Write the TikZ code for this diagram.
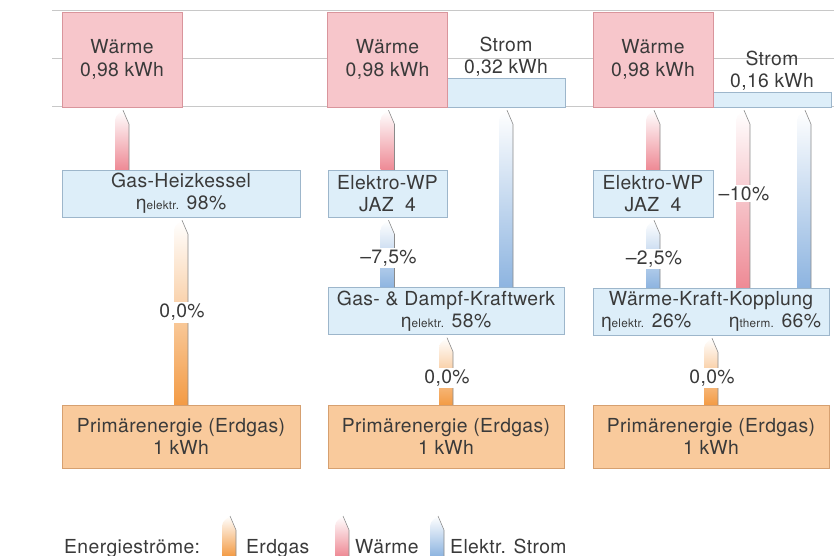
\documentclass[tikz,border=0pt]{standalone}
\usepackage{fontspec}
\setmainfont{TeX Gyre Heros}[LetterSpace=2]
\usetikzlibrary{calc,shadows}

\definecolor{txt}{HTML}{3A3A3A}
\definecolor{waerme}{HTML}{F7C6CB}
\definecolor{waermeedge}{HTML}{D9959C}
\definecolor{strom}{HTML}{DDEEF9}
\definecolor{stromedge}{HTML}{9DB6CB}
\definecolor{erdgas}{HTML}{F9CA9C}
\definecolor{erdgasedge}{HTML}{D6A070}
\definecolor{waermeflow}{HTML}{EE8A95}
\definecolor{stromflow}{HTML}{8DB4E0}
\definecolor{erdgasflow}{HTML}{F39B45}
\definecolor{gridline}{HTML}{C8C8C8}
\definecolor{flowline}{HTML}{8A8A8A}

\tikzset{
  box/.style={line width=0.4pt, inner sep=0pt, align=center, text=txt,
    drop shadow={shadow xshift=0.8pt, shadow yshift=-0.8pt, fill=black, opacity=0.3}},
  heatbox/.style={box, fill=waerme, draw=waermeedge, minimum width=3.6cm, minimum height=2.85cm},
  elbox/.style={box, fill=strom, draw=stromedge},
  convbox/.style={elbox, minimum height=1.41cm},
  gasbox/.style={box, fill=erdgas, draw=erdgasedge, minimum height=1.89cm},
  plain/.style={align=center, text=txt, inner sep=0pt},
  pct/.style={fill=white, inner sep=1.5pt, text=txt},
  legendtext/.style={anchor=base west, text=txt, inner sep=0pt},
  flowedge/.style={draw=flowline, line width=0.5pt}
}

% eta with small index
\newcommand{\eff}[1]{η{\fontsize{10}{12}\selectfont #1}}

% shaded flow arrow: colour, foot, tip
\newcommand{\flowshape}[3]{%
  \shade[bottom color=#1, top color=white] ($(#2)+(-8,0)$) -- ($(#3)+(-8,15)$)
    .. controls ($(#3)+(-8,6)$) .. (#3) -- ($(#3)+(6,14)$) -- ($(#2)+(6,0)$) -- cycle;
  \draw[flowedge] ($(#2)+(6,0)$) -- ($(#3)+(6,14)$) -- (#3);
}
% flow from one box up to another: [shift]{colour}{from}{to}
\newcommand{\flow}[4][0]{%
  \coordinate (tip) at ($(#4.south)+(#1+1,3)$);
  \coordinate (foot) at (#3.north -| tip);
  \flowshape{#2}{foot}{tip}
}

\begin{document}
\begin{tikzpicture}[x=0.03cm, y=-0.03cm, font=\fontsize{16.5}{19}\selectfont]
  \useasboundingbox (0,0) rectangle (834,556);

  % guide lines
  \foreach \y in {10,58,106}
    \draw[gridline, line width=0.5pt] (52,\y) -- (834,\y);

  % output row
  \node[elbox, minimum width=3.54cm, minimum height=0.87cm] (s2) at (506,92.5) {};
  \node[elbox, minimum width=3.54cm, minimum height=0.45cm] (s3) at (772,99.5) {};
  \node[heatbox] (w1) at (122,59.5) {Wärme\\0,98 kWh};
  \node[heatbox] (w2) at (387.5,59.5) {Wärme\\0,98 kWh};
  \node[heatbox] (w3) at (653,59.5) {Wärme\\0,98 kWh};
  \node[plain] (s2t) at (506,56.5) {Strom\\0,32 kWh};
  \node[plain] (s3t) at (772,71) {Strom\\0,16 kWh};

  % converters
  \node[convbox, minimum width=7.14cm] (kessel) at (181,193.5) {Gas-Heizkessel\\\eff{elektr.} 98\%};
  \node[convbox, minimum width=3.57cm] (wp2) at (387.5,193.5) {Elektro-WP\\JAZ\ \ 4};
  \node[convbox, minimum width=3.6cm] (wp3) at (653,193.5) {Elektro-WP\\JAZ\ \ 4};
  \node[convbox, minimum width=7.08cm] (gud) at (446,311) {Gas- \& Dampf-Kraftwerk\\\eff{elektr.} 58\%};
  \node[convbox, minimum width=7.08cm] (kwk) at (711,311.5)
    {Wärme-Kraft-Kopplung\\\makebox[6.6cm]{\eff{elektr.} 26\%\hfill\eff{therm.} 66\%}};

  % primary energy
  \node[gasbox, minimum width=7.14cm] (pe1) at (181,436.5) {Primärenergie (Erdgas)\\1 kWh};
  \node[gasbox, minimum width=7.08cm] (pe2) at (446,436.5) {Primärenergie (Erdgas)\\1 kWh};
  \node[gasbox, minimum width=7.08cm] (pe3) at (711,436.5) {Primärenergie (Erdgas)\\1 kWh};

  % flows, left
  \flow{erdgasflow}{pe1}{kessel}
  \node[pct] (p1) at ($(foot)!0.5!(tip)$) {0,0\%};
  \flow{waermeflow}{kessel}{w1}

  % flows, middle
  \flow{erdgasflow}{pe2}{gud}
  \node[pct] (p2) at ($(foot)!0.4!(tip)$) {0,0\%};
  \flow{stromflow}{gud}{wp2}
  \node[pct] (p3) at ($(foot)!0.43!(tip)$) {–7,5\%};
  \flow{stromflow}{gud}{s2}
  \flow{waermeflow}{wp2}{w2}

  % flows, right
  \flow{erdgasflow}{pe3}{kwk}
  \node[pct] (p4) at ($(foot)!0.4!(tip)$) {0,0\%};
  \flow{stromflow}{kwk}{wp3}
  \node[pct] (p5) at ($(foot)!0.43!(tip)$) {–2,5\%};
  \flow[-29]{waermeflow}{kwk}{s3}
  \node[pct] (p6) at ($(foot)!0.53!(tip)$) {–10\%};
  \flow[32]{stromflow}{kwk}{s3}
  \flow{waermeflow}{wp3}{w3}

  % legend
  \node[legendtext] (lg) at (64,553) {Energieströme:};
  \coordinate (lg1tip) at (230,516); \coordinate (lg1foot) at (230,556);
  \coordinate (lg2tip) at (343,516); \coordinate (lg2foot) at (343,556);
  \coordinate (lg3tip) at (438,516); \coordinate (lg3foot) at (438,556);
  \flowshape{erdgasflow}{lg1foot}{lg1tip}
  \flowshape{waermeflow}{lg2foot}{lg2tip}
  \flowshape{stromflow}{lg3foot}{lg3tip}
  \node[legendtext] (lg1) at (246,553) {Erdgas};
  \node[legendtext] (lg2) at (355,553) {Wärme};
  \node[legendtext] (lg3) at (450,553) {Elektr. Strom};
\end{tikzpicture}
\end{document}
